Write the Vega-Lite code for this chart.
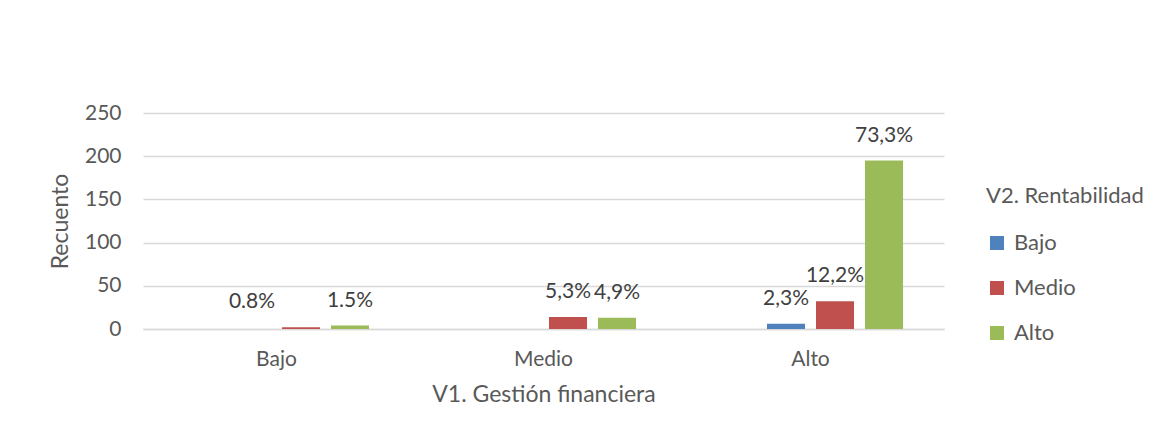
{
  "$schema": "https://vega.github.io/schema/vega-lite/v6.json",
  "width": 801,
  "height": 216,
  "autosize": {"type": "none"},
  "padding": {"left": 143, "top": 113, "right": 232, "bottom": 112},
  "background": "white",
  "config": {
    "font": "Lato",
    "view": {"stroke": null},
    "axis": {
      "labelColor": "#595959",
      "titleColor": "#595959",
      "labelFont": "Lato",
      "titleFont": "Lato",
      "titleFontWeight": "normal",
      "labelFontSize": 21,
      "titleFontSize": 23,
      "ticks": false,
      "gridColor": "#d9d9d9",
      "gridWidth": 1.5
    },
    "legend": {
      "labelColor": "#595959",
      "titleColor": "#595959",
      "labelFont": "Lato",
      "titleFont": "Lato",
      "titleFontWeight": "normal",
      "labelFontSize": 22,
      "titleFontSize": 22
    }
  },
  "data": {
    "values": [
      {"grupo": "Bajo", "serie": "Medio", "n": 2, "pct": "0.8%", "etiqueta": "Bajo"},
      {"grupo": "Bajo", "serie": "Alto", "n": 4, "pct": "1.5%", "etiqueta": "Alto"},
      {"grupo": "Medio", "serie": "Medio", "n": 14, "pct": "5,3%", "etiqueta": "Medio"},
      {"grupo": "Medio", "serie": "Alto", "n": 13, "pct": "4,9%", "etiqueta": "Alto"},
      {"grupo": "Alto", "serie": "Bajo", "n": 6, "pct": "2,3%", "etiqueta": "Bajo"},
      {"grupo": "Alto", "serie": "Medio", "n": 32, "pct": "12,2%", "etiqueta": "Medio"},
      {"grupo": "Alto", "serie": "Alto", "n": 195, "pct": "73,3%", "etiqueta": "Alto"}
    ]
  },
  "encoding": {
    "x": {
      "field": "grupo",
      "type": "nominal",
      "sort": ["Bajo", "Medio", "Alto"],
      "scale": {"paddingInner": 0, "paddingOuter": 0},
      "axis": {
        "title": "V1. Gestión financiera",
        "labelAngle": 0,
        "labelPadding": 19,
        "titlePadding": 14,
        "domain": true,
        "domainColor": "#d9d9d9",
        "domainWidth": 1.5,
        "grid": false
      }
    },
    "y": {
      "field": "n",
      "type": "quantitative",
      "scale": {"domain": [0, 250]},
      "axis": {
        "title": "Recuento",
        "values": [0, 50, 100, 150, 200, 250],
        "domain": false,
        "grid": true,
        "labelPadding": 22,
        "titlePadding": 12
      }
    }
  },
  "layer": [
    {
      "mark": {"type": "bar"},
      "encoding": {
        "xOffset": {
          "field": "serie",
          "type": "nominal",
          "scale": {"domain": ["_", "Bajo", "Medio", "Alto"], "paddingInner": 0.224, "paddingOuter": 0.836}
        },
        "color": {
          "field": "serie",
          "type": "nominal",
          "scale": {"domain": ["Bajo", "Medio", "Alto"], "range": ["#4f81bd", "#c0504d", "#9bbb59"]},
          "legend": {
            "title": "V2. Rentabilidad",
            "orient": "none",
            "legendX": 843,
            "legendY": 73,
            "symbolType": "square",
            "symbolSize": 196,
            "symbolStrokeWidth": 0,
            "labelOffset": 6,
            "rowPadding": 23,
            "titlePadding": 24
          }
        }
      }
    },
    {
      "mark": {"type": "text", "dy": -25, "fontSize": 21, "color": "#404040", "font": "Lato"},
      "encoding": {
        "xOffset": {
          "field": "etiqueta",
          "type": "nominal",
          "scale": {"domain": ["_", "Bajo", "Medio", "Alto"], "paddingInner": 0.224, "paddingOuter": 0.836}
        },
        "text": {"field": "pct"}
      }
    }
  ]
}
